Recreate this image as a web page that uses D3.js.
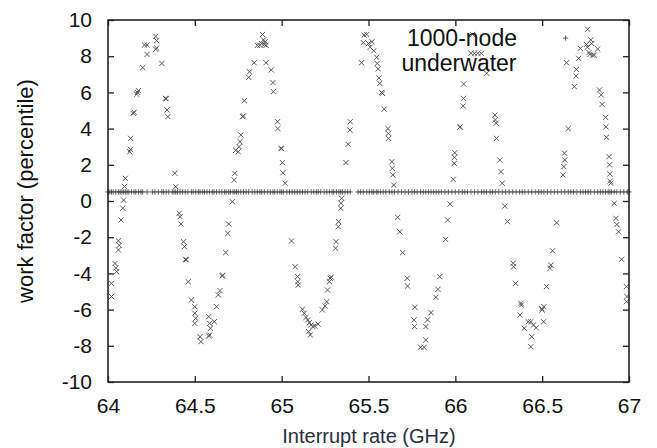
<!DOCTYPE html>
<html>
<head>
<meta charset="utf-8">
<script src="https://cdn.jsdelivr.net/npm/d3@7"></script>
<style>
  body { margin: 0; background: #fff; }
  svg text { font-family: "Liberation Sans", Arial, sans-serif; }
</style>
</head>
<body>
<div id="chart"></div>
<script>
// tick values
var xTicks = [64, 64.5, 65, 65.5, 66, 66.5, 67];
var yTicks = [-10, -8, -6, -4, -2, 0, 2, 4, 6, 8, 10];

// the "x" points, [rate, work factor]
var wavePoints = [
  [64.02,-4.55],[64.02,-5.28],[64.04,-3.45],[64.045,-3.7],[64.05,-3.9],[64.06,-2.2],
  [64.065,-2.45],[64.06,-2.7],[64.075,-1.05],[64.085,-0.4],[64.09,0.05],[64.095,0.8],
  [64.1,1.25],[64.125,2.72],[64.13,2.85],[64.13,3.46],[64.145,4.84],[64.15,4.9],
  [64.165,5.9],[64.17,6.0],[64.175,6.1],[64.2,7.37],[64.21,8.62],[64.225,8.62],
  [64.225,8.1],[64.275,9.1],[64.28,8.86],[64.275,8.38],[64.28,8.45],[64.31,7.6],
  [64.33,5.67],[64.335,5.65],[64.34,5.03],[64.345,4.66],[64.385,1.53],[64.39,0.79],
  [64.41,-0.68],[64.415,-0.87],[64.42,-1.27],[64.435,-2.25],[64.44,-2.52],[64.447,-3.22],
  [64.45,-3.25],[64.462,-4.46],[64.48,-5.47],[64.5,-5.84],[64.5,-6.2],[64.505,-6.48],
  [64.5,-6.76],[64.53,-7.5],[64.535,-7.77],[64.58,-6.39],[64.585,-6.76],[64.59,-7.03],
  [64.585,-7.4],[64.58,-7.46],[64.612,-6.67],[64.625,-5.84],[64.635,-5.19],[64.645,-4.95],
  [64.658,-4.14],[64.66,-4.1],[64.678,-2.85],[64.69,-1.79],[64.695,-1.27],[64.716,-0.04],
  [64.727,1.16],[64.73,1.53],[64.735,2.8],[64.75,2.72],[64.755,3.0],[64.76,3.28],
  [64.765,3.65],[64.775,4.66],[64.78,4.7],[64.785,5.54],[64.81,6.83],[64.815,7.14],
  [64.842,7.64],[64.86,8.6],[64.875,8.6],[64.885,8.7],[64.89,9.2],[64.895,8.9],
  [64.9,8.65],[64.91,8.6],[64.905,8.8],[64.91,7.64],[64.94,7.24],[64.95,6.54],
  [64.952,6.04],[64.976,4.38],[64.978,4.0],[64.996,2.91],[65.0,2.9],[65.005,2.12],
  [65.007,1.56],[65.02,0.98],[65.057,-2.21],[65.077,-3.63],[65.092,-4.18],[65.093,-4.46],
  [65.095,-4.64],[65.12,-5.98],[65.13,-6.2],[65.14,-6.43],[65.15,-6.57],[65.16,-6.72],
  [65.17,-6.85],[65.18,-6.94],[65.19,-6.9],[65.21,-6.8],[65.155,-7.22],[65.165,-7.4],
  [65.234,-6.02],[65.25,-5.8],[65.26,-5.56],[65.264,-4.92],[65.275,-4.46],[65.28,-4.27],
  [65.285,-4.2],[65.31,-2.61],[65.313,-2.25],[65.326,-1.42],[65.328,-1.14],[65.34,-0.4],
  [65.342,-0.13],[65.345,0.15],[65.37,2.12],[65.383,3.13],[65.393,3.92],[65.395,4.38],
  [65.46,7.64],[65.47,8.75],[65.475,9.17],[65.49,9.2],[65.5,8.7],[65.51,8.5],
  [65.52,8.8],[65.53,8.3],[65.547,7.94],[65.55,7.6],[65.555,7.3],[65.56,6.8],
  [65.565,6.5],[65.575,6.0],[65.58,5.95],[65.59,5.07],[65.612,4.0],[65.614,3.73],
  [65.615,3.46],[65.635,2.17],[65.637,1.8],[65.64,1.44],[65.645,0.88],[65.668,-0.9],
  [65.68,-1.7],[65.697,-2.85],[65.723,-4.27],[65.725,-4.7],[65.767,-5.87],[65.762,-6.57],
  [65.765,-6.94],[65.83,-6.94],[65.84,-6.57],[65.86,-6.17],[65.8,-8.08],[65.82,-8.08],
  [65.83,-7.68],[65.888,-5.32],[65.9,-4.88],[65.91,-4.18],[65.944,-2.12],[65.956,-1.05],
  [65.97,-0.17],[65.988,1.2],[65.994,2.08],[65.995,2.41],[65.997,2.67],[66.026,4.07],
  [66.028,4.1],[66.045,5.25],[66.047,5.67],[66.048,6.46],[66.09,8.16],[66.11,8.16],
  [66.13,8.16],[66.1,9.2],[66.15,8.16],[66.18,7.06],[66.228,4.75],[66.23,4.48],
  [66.237,3.46],[66.235,4.3],[66.256,2.26],[66.263,1.62],[66.27,0.98],[66.285,-0.28],
  [66.3,-1.14],[66.333,-3.44],[66.335,-3.63],[66.347,-4.55],[66.378,-5.65],[66.38,-5.75],
  [66.372,-6.3],[66.397,-7.03],[66.42,-6.67],[66.435,-6.67],[66.45,-6.85],[66.465,-7.0],
  [66.44,-7.5],[66.435,-8.05],[66.5,-6.02],[66.51,-5.84],[66.498,-5.95],[66.508,-6.67],
  [66.525,-4.73],[66.545,-3.72],[66.55,-3.54],[66.56,-2.75],[66.583,-1.2],[66.62,1.44],
  [66.625,1.9],[66.63,2.27],[66.628,2.64],[66.65,4.0],[66.64,7.64],[66.685,6.32],
  [66.695,6.9],[66.697,7.27],[66.71,7.88],[66.72,8.43],[66.762,9.49],[66.78,8.9],
  [66.785,8.7],[66.76,8.5],[66.77,8.2],[66.775,8.1],[66.79,8.06],[66.8,8.06],
  [66.82,8.4],[66.755,8.65],[66.83,6.13],[66.84,5.86],[66.845,5.34],[66.865,4.62],
  [66.867,4.1],[66.87,3.52],[66.885,2.45],[66.888,2.0],[66.89,1.5],[66.892,1.1],
  [66.895,0.98],[66.915,-0.13],[66.925,-0.96],[66.93,-1.3],[66.94,-1.7],[66.957,-3.22],
  [66.985,-4.73],[66.988,-5.28],[66.986,-5.56]
];

// the "+" points sitting on the baseline
var baseLevel = 0.5;
var baseX = [
  64.00,64.01,64.02,64.03,64.045,64.06,64.07,64.08,64.09,64.10,64.11,64.12,64.135,64.15,
  64.16,64.175,64.19,64.20,64.225,64.255,64.27,64.29,64.31,64.32,64.335,64.35,64.37,64.38,
  64.39,64.40,64.415,64.43,64.445,64.46,64.48,64.49,64.505,64.52,64.53,64.545,64.555,64.57,
  64.585,64.60,64.61,64.625,64.64,64.655,64.67,64.68,64.695,64.705,64.72,64.73,64.74,64.75,
  64.765,64.78,64.795,64.81,64.83,64.845,64.86,64.875,64.885,64.90,64.92,64.935,64.95,64.96,
  64.975,64.99,65.00,65.01,65.03,65.045,65.06,65.075,65.09,65.105,65.12,65.135,65.15,65.17,
  65.185,65.20,65.21,65.225,65.245,65.26,65.275,65.29,65.30,65.315,65.33,65.34,65.35,65.365,
  65.38,65.395,65.44,65.455,65.47,65.49,65.505,65.52,65.53,65.545,65.555,65.57,65.585,65.60,
  65.62,65.635,65.65,65.67,65.69,65.71,65.73,65.75,65.765,65.78,65.80,65.815,65.83,65.845,
  65.86,65.875,65.89,65.905,65.92,65.94,65.96,65.98,66.00,66.02,66.04,66.055,66.07,66.09,
  66.11,66.13,66.15,66.165,66.18,66.20,66.215,66.23,66.25,66.27,66.29,66.31,66.33,66.35,
  66.37,66.385,66.40,66.42,66.44,66.46,66.48,66.495,66.51,66.53,66.55,66.57,66.59,66.61,
  66.63,66.65,66.665,66.68,66.70,66.72,66.735,66.75,66.765,66.78,66.80,66.82,66.835,66.85,
  66.865,66.88,66.89,66.90,66.915,66.93,66.95,66.97,66.99,67.0
];
// one stray "+" up near the last peak
var strayPlus = [[66.635, 9.0]];

var width = 657, height = 448;
var margin = {left: 108, right: 28, top: 20, bottom: 66};

var svg = d3.select("#chart").append("svg").attr("width", width).attr("height", height);

var x = d3.scaleLinear().domain([64, 67]).range([margin.left, width - margin.right]);
var y = d3.scaleLinear().domain([-10, 10]).range([height - margin.bottom, margin.top]);

var fmt = function(d) { return String(d); };

// points first, frame drawn on top
var pts = svg.append("g").attr("stroke", "#484848").attr("stroke-width", 0.9).attr("fill", "none");
var s = 2.6;

var plusData = baseX.map(function(d) { return [d, baseLevel]; }).concat(strayPlus);
pts.selectAll("path.plus").data(plusData).enter().append("path")
    .attr("class", "plus")
    .attr("d", function(d) {
        var cx = x(d[0]), cy = y(d[1]);
        return "M" + (cx - s) + "," + cy + "H" + (cx + s) + "M" + cx + "," + (cy - s) + "V" + (cy + s);
    });

pts.selectAll("path.cross").data(wavePoints).enter().append("path")
    .attr("class", "cross")
    .attr("d", function(d) {
        var cx = x(d[0]), cy = y(d[1]);
        return "M" + (cx - s) + "," + (cy - s) + "L" + (cx + s) + "," + (cy + s) +
               "M" + (cx - s) + "," + (cy + s) + "L" + (cx + s) + "," + (cy - s);
    });

// axes, ticks pointing in
var xAxis = d3.axisBottom(x).tickValues(xTicks).tickFormat(fmt).tickSizeInner(-6).tickSizeOuter(0).tickPadding(16);
var yAxis = d3.axisLeft(y).tickValues(yTicks).tickFormat(fmt).tickSizeInner(-6).tickSizeOuter(0).tickPadding(16);

var gx = svg.append("g").attr("transform", "translate(0," + y(-10) + ")").call(xAxis);
var gy = svg.append("g").attr("transform", "translate(" + x(64) + ",0)").call(yAxis);
svg.append("g").attr("transform", "translate(0," + y(10) + ")")
    .call(d3.axisTop(x).tickValues(xTicks).tickFormat("").tickSizeInner(-6).tickSizeOuter(0));
svg.append("g").attr("transform", "translate(" + x(67) + ",0)")
    .call(d3.axisRight(y).tickValues(yTicks).tickFormat("").tickSizeInner(-6).tickSizeOuter(0));

svg.selectAll(".domain").remove();
svg.selectAll(".tick line").attr("stroke", "#222").attr("stroke-width", 1.3);
svg.selectAll(".tick text").attr("font-size", 21).attr("fill", "#111")
    .style("font-family", "'Liberation Sans', Arial, sans-serif");

svg.append("rect")
    .attr("x", x(64)).attr("y", y(10))
    .attr("width", x(67) - x(64)).attr("height", y(-10) - y(10))
    .attr("fill", "none").attr("stroke", "#222").attr("stroke-width", 1.6);

// labels
svg.append("text")
    .attr("transform", "translate(33,191) rotate(-90)")
    .attr("text-anchor", "middle")
    .attr("font-size", 22).attr("fill", "#111")
    .text("work factor (percentile)");

svg.append("text")
    .attr("x", 369).attr("y", 443)
    .attr("text-anchor", "middle")
    .attr("font-size", 20).attr("fill", "#27303f")
    .text("Interrupt rate (GHz)");

svg.append("text")
    .attr("x", 462).attr("y", 46)
    .attr("text-anchor", "middle")
    .attr("font-size", 23).attr("fill", "#111")
    .text("1000-node");
svg.append("text")
    .attr("x", 459).attr("y", 71)
    .attr("text-anchor", "middle")
    .attr("font-size", 23).attr("fill", "#111")
    .text("underwater");
</script>
</body>
</html>
